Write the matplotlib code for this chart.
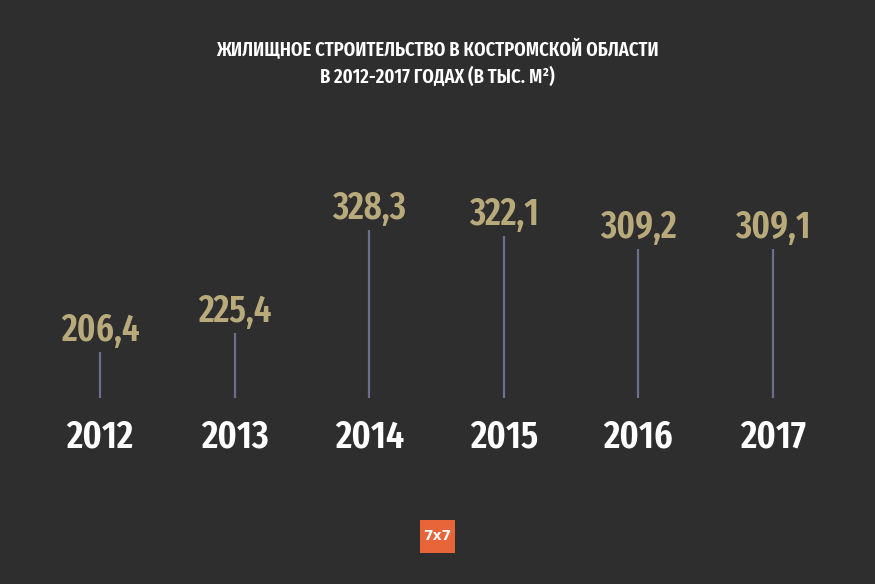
import matplotlib
matplotlib.use("Agg")
import matplotlib.pyplot as plt
from matplotlib.patches import Rectangle

years = ["2012", "2013", "2014", "2015", "2016", "2017"]
values = [206.4, 225.4, 328.3, 322.1, 309.2, 309.1]
value_labels = ["206,4", "225,4", "328,3", "322,1", "309,2", "309,1"]
title_lines = ["ЖИЛИЩНОЕ СТРОИТЕЛЬСТВО В КОСТРОМСКОЙ ОБЛАСТИ",
               "В 2012-2017 ГОДАХ (В ТЫС. М²)"]

fam = ["Fira Sans Extra Condensed", "DejaVu Sans"]

BG = "#2e2e2e"
GOLD = "#b9aa7c"
LINE = "#6a6f8e"

fig = plt.figure(figsize=(8.75, 5.84), dpi=100, facecolor=BG)
H = 584.0
ax = fig.add_axes([0, 1 - 398 / H, 1, 398 / H])
ax.set_facecolor(BG)
ax.set_axis_off()
base = 160.0
ax.set_ylim(base, base + 398 / 1.0)
step = 134.6
ax.set_xlim(-100 / step, 5 + (875 - 773) / step)

x = list(range(len(years)))
ax.vlines(x, base, values, colors=LINE, linewidth=1.6)
for xi, v, lab, yr in zip(x, values, value_labels, years):
    ax.annotate(lab, (xi, v), xytext=(0, 7.5), textcoords="offset points",
                ha="center", va="baseline", color=GOLD, fontsize=27,
                fontfamily=fam, fontweight="semibold")
    ax.annotate(yr, (xi, base), xytext=(0, -35.5), textcoords="offset points",
                ha="center", va="baseline", color="white", fontsize=28,
                fontfamily=fam, fontweight="semibold", annotation_clip=False)

fig.text(0.5, 1 - 56 / H, title_lines[0], ha="center", va="baseline",
         color="white", fontsize=14.5, fontfamily=fam, fontweight="semibold")
fig.text(0.5, 1 - 83 / H, title_lines[1], ha="center", va="baseline",
         color="white", fontsize=14.5, fontfamily=fam, fontweight="semibold")

# logo
fig.patches.append(Rectangle((420 / 875, 1 - 553 / H), 35 / 875, 33 / H,
                             transform=fig.transFigure, facecolor="#e8653a",
                             edgecolor="none"))
fig.text(437.5 / 875, 1 - 536.5 / H, "7x7", ha="center", va="center",
         color="white", fontsize=10, fontweight="bold", fontfamily="DejaVu Sans")

fig.savefig("out.png", dpi=100, facecolor=BG)
